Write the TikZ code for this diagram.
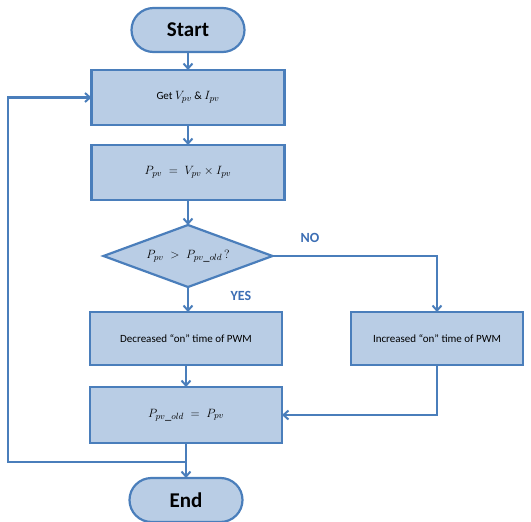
\documentclass[tikz,border=0pt]{standalone}
\usepackage{fontspec}
\setmainfont{Carlito}
\usetikzlibrary{shapes.geometric,shapes.misc,arrows.meta}
\definecolor{boxfill}{HTML}{B9CDE5}
\definecolor{boxline}{HTML}{4A7EBB}
\definecolor{lblblue}{HTML}{3C6EB4}
\tikzset{
  procbox/.style={draw=boxline, fill=boxfill, line width=2.2pt, rectangle, inner sep=0pt, outer sep=0pt, font=\fontsize{11}{13}\selectfont},
  termbox/.style={draw=boxline, fill=boxfill, line width=2.2pt, rounded rectangle, inner sep=0pt, outer sep=0pt, minimum width=113pt, minimum height=44pt, font=\fontsize{21}{24}\selectfont\bfseries},
  decbox/.style={draw=boxline, fill=boxfill, line width=2.2pt, diamond, inner sep=0pt, outer sep=0pt, minimum width=169pt, minimum height=62pt, aspect=2.7, font=\fontsize{11}{13}\selectfont},
  flow/.style={draw=boxline, line width=2.2pt, -{Straight Barb[length=5pt,width=9pt,line width=2pt]}},
  lbl/.style={text=lblblue, font=\fontsize{14}{16}\selectfont\bfseries},
  mathsz/.style={font=\fontsize{12.5}{14}\selectfont}
}
\begin{document}
\begin{tikzpicture}[x=1pt,y=-1pt]
\useasboundingbox (0,0) rectangle (531,522);
\node[termbox] (start) at (188,30) {Start};
\node[procbox, minimum width=193pt, minimum height=55pt] (get) at (188,97.5) {Get {\fontsize{12.5}{14}\selectfont$V_{pv}$} \& {\fontsize{12.5}{14}\selectfont$I_{pv}$}};
\node[procbox, mathsz, minimum width=193pt, minimum height=55pt] (calc) at (188,172.5) {$P_{pv}\;=\;V_{pv}\times I_{pv}$};
\node[decbox, mathsz] (dec) at (188,256) {$P_{pv}\;>\;P_{pv\_old}\,?$};
\node[procbox, minimum width=192pt, minimum height=53pt] (decr) at (186,338.5) {Decreased ``on'' time of PWM};
\node[procbox, minimum width=172pt, minimum height=53pt] (incr) at (437,338.5) {Increased ``on'' time of PWM};
\node[procbox, mathsz, minimum width=192pt, minimum height=56pt] (pold) at (186,415) {$P_{pv\_old}\;=\;P_{pv}$};
\node[termbox] (stop) at (186,500) {End};
\node[lbl] (no) at (310,238) {NO};
\node[lbl] (yes) at (241,296) {YES};
\coordinate (j) at (186,462);
\coordinate (c1) at (8,462);
\coordinate (c2) at (8,97.5);
\draw[flow] (start) -- (get);
\draw[flow] (get) -- (calc);
\draw[flow] (calc.south) -- (dec.north);
\draw[flow] (dec.south) -- (decr.north -| dec.south);
\draw[flow] (dec.east) -| (incr.north);
\draw[flow] (decr) -- (pold);
\draw[flow] (incr.south) |- (pold.east);
\draw[flow] (pold) -- (stop);
\draw[flow] (j) -- (c1) -- (c2) -- (get.west);
\end{tikzpicture}
\end{document}
